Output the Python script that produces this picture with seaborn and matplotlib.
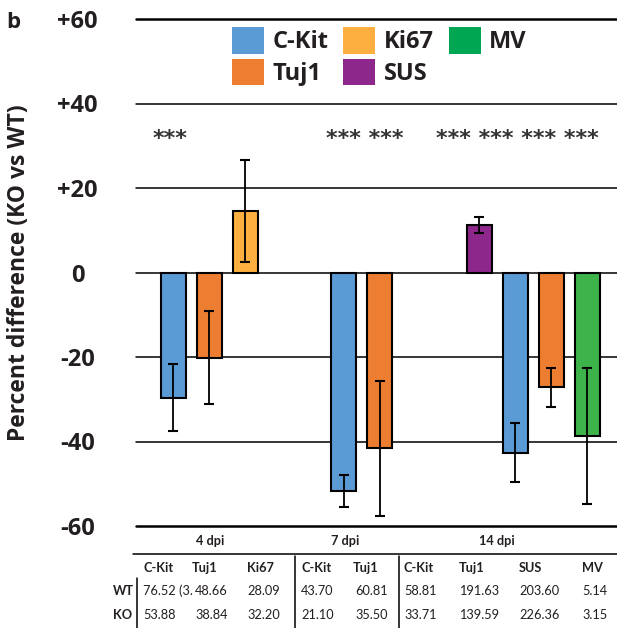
import pandas as pd
import numpy as np
import matplotlib.pyplot as plt
import seaborn as sns
from matplotlib.patches import Patch

sns.set_style('white')
plt.rcParams['font.family'] = ['Lato', 'DejaVu Sans']

# Dados das barras (diferenca percentual KO vs WT)
groups = ['4 dpi', '7 dpi', '14 dpi']
bar_group = ['4 dpi', '4 dpi', '4 dpi', '7 dpi', '7 dpi',
             '14 dpi', '14 dpi', '14 dpi', '14 dpi']
bar_marker = ['C-Kit', 'Tuj1', 'Ki67', 'C-Kit', 'Tuj1',
              'SUS', 'C-Kit', 'Tuj1', 'MV']
bar_value = [-29.6, -20.2, 14.6, -51.7, -41.6, 11.2, -42.7, -27.2, -38.7]
bar_err = [8.0, 11.0, 12.0, 3.8, 16.0, 1.9, 7.0, 4.7, 16.0]

star_text = ['***', '*** ***', '*** *** *** ***']

y_ticks = [60, 40, 20, 0, -20, -40, -60]
y_labels = ['+60', '+40', '+20', '0', '-20', '-40', '-60']

# Tabela de baixo
table_markers = [['C-Kit', 'Tuj1', 'Ki67'],
                 ['C-Kit', 'Tuj1'],
                 ['C-Kit', 'Tuj1', 'SUS', 'MV']]
wt_values = ['76.52 (3.', '48.66', '28.09', '43.70', '60.81',
             '58.81', '191.63', '203.60', '5.14']
ko_values = ['53.88', '38.84', '32.20', '21.10', '35.50',
             '33.71', '139.59', '226.36', '3.15']

palette = {'C-Kit': '#5B9BD5', 'Tuj1': '#ED7D31', 'Ki67': '#FDB03F',
           'SUS': '#8E278C', 'MV': '#3DB34A'}
legend_colors = dict(palette, MV='#00A651')
txt = '#231F20'
bold_font = ['Open Sans', 'DejaVu Sans']

# posicoes das barras (1 unidade = largura de um slot)
group_center = {'4 dpi': 2.03, '7 dpi': 6.27, '14 dpi': 11.04}
star_x = [0.94, 6.35, 10.6]

df = pd.DataFrame({'grupo': bar_group, 'marcador': bar_marker,
                   'valor': bar_value, 'erro': bar_err})
df['idx'] = df.groupby('grupo').cumcount()
df['n'] = df.groupby('grupo')['grupo'].transform('size')
df['pos'] = df['grupo'].map(group_center) + (df['idx'] - (df['n'] - 1) / 2)

fig = plt.figure(figsize=(6.17, 6.28), dpi=100)
ax = fig.add_axes([136 / 617, 1 - 526 / 628, 481 / 617, 507 / 628])

for t in y_ticks:
    ax.axhline(t, color='black', lw=1.8 if abs(t) == 60 else 1.1,
               zorder=0, clip_on=False)

sns.barplot(data=df, x='pos', y='valor', hue='marcador', palette=palette,
            native_scale=True, width=0.69, dodge=False, errorbar=None,
            saturation=1, edgecolor='black', linewidth=1.5, legend=False, ax=ax)
ax.errorbar(df['pos'], df['valor'], yerr=df['erro'], fmt='none',
            ecolor='black', elinewidth=1.3, capsize=3.8, capthick=1.5, zorder=3)

for x, s in zip(star_x, star_text):
    ax.text(x, 31.7, s, ha='center', va='center', fontsize=16,
            family='DejaVu Sans', fontweight='bold', color='#333333')

ax.set_xlim(0, 481 / 36)
ax.set_ylim(-60, 60)
ax.set_xticks([])
ax.set_xlabel('')
ax.set_yticks(y_ticks, y_labels)
ax.tick_params(axis='y', length=0, pad=42, labelcolor=txt)
for lab in ax.get_yticklabels():
    lab.set_ha('center')
    lab.set_fontweight('bold')
    lab.set_family(bold_font)
    lab.set_fontsize(17)
for sp in ax.spines.values():
    sp.set_visible(False)
ax.set_ylabel('Percent difference (KO vs WT)', fontsize=16.5,
              fontweight='bold', color=txt, family=bold_font)
ax.yaxis.set_label_coords(-(136 - 31) / 481, 0.5)

handles = [Patch(facecolor=legend_colors[m], edgecolor='none')
           for m in ['C-Kit', 'Tuj1', 'Ki67', 'SUS', 'MV']]
fig.legend(handles, ['C-Kit', 'Tuj1', 'Ki67', 'SUS', 'MV'], loc='upper left',
           bbox_to_anchor=(232 / 617, 1 - 27 / 628), ncol=3, frameon=False,
           prop=dict(family=bold_font, weight='bold', size=17),
           labelcolor=txt, handlelength=1.35, handleheight=1.35,
           handletextpad=0.35, columnspacing=0.65, labelspacing=0.2,
           borderpad=0, borderaxespad=0)

fig.text(6 / 617, 1 - 23 / 628, 'b', fontsize=16, fontweight='bold',
         color=txt, va='center', family=bold_font)

# tabela desenhada em coordenadas de pixel
tab = fig.add_axes([0, 0, 1, 102 / 628])
tab.set_xlim(0, 617)
tab.set_ylim(628, 526)
tab.axis('off')

col_x = [143, 192, 247, 301, 353, 404, 459, 519, 582]
val_x = [143, 195, 247, 301, 355, 404, 459, 519, 582]
head_x = [210, 345, 497]
sep_x = [295, 399]
fs = 9.2

tab.plot([133, 617], [554, 554], color='black', lw=1.1)
tab.plot([137, 137], [578, 628], color='black', lw=1.1)
for x in sep_x:
    tab.plot([x, x], [556, 628], color='black', lw=1.1)

for x, g in zip(head_x, groups):
    tab.text(x, 541, g, ha='center', va='center', fontsize=fs,
             fontweight='bold', color=txt)
labels_flat = [m for grp in table_markers for m in grp]
for x, xv, m, wt, ko in zip(col_x, val_x, labels_flat, wt_values, ko_values):
    tab.text(x, 568, m, ha='left', va='center', fontsize=fs,
             fontweight='bold', color=txt)
    tab.text(xv, 591, wt, ha='left', va='center', fontsize=fs, color=txt)
    tab.text(xv, 615, ko, ha='left', va='center', fontsize=fs, color=txt)
tab.text(123, 591, 'WT', ha='center', va='center', fontsize=fs,
         fontweight='bold', color=txt)
tab.text(123, 615, 'KO', ha='center', va='center', fontsize=fs,
         fontweight='bold', color=txt)

fig.savefig('out.png', dpi=100)
